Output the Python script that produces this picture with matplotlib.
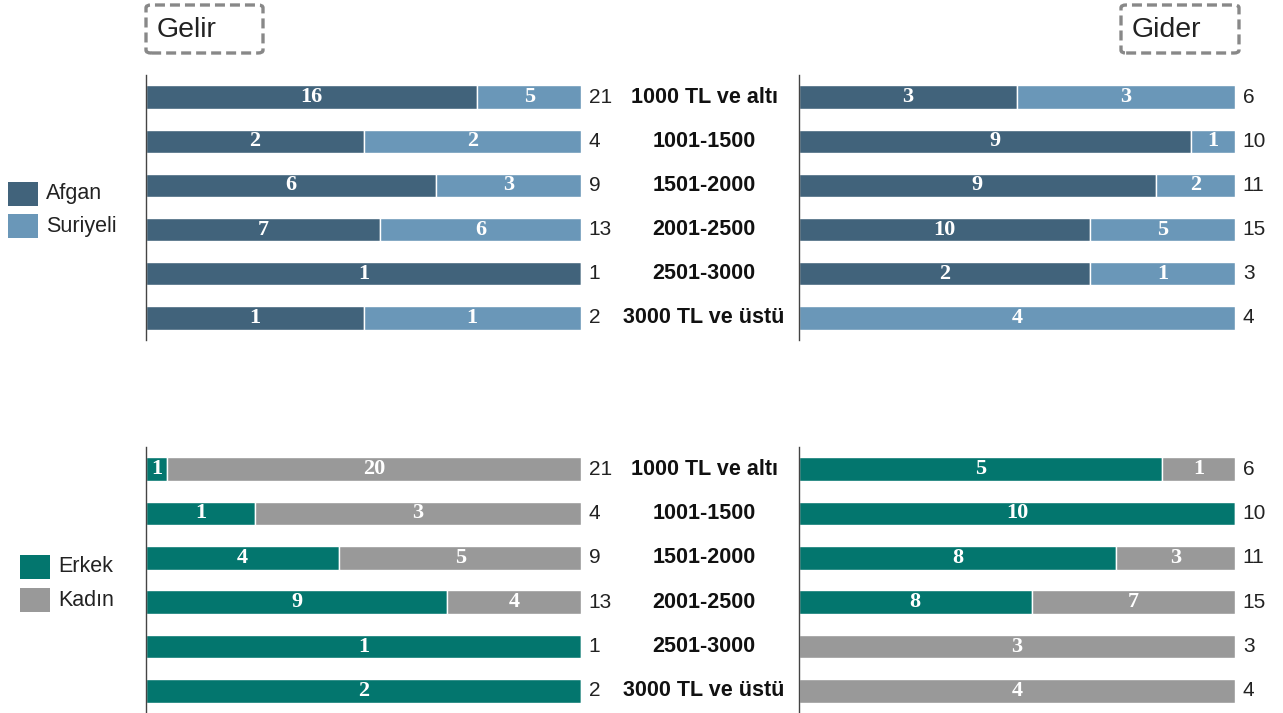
import matplotlib
matplotlib.use("Agg")
from matplotlib import pyplot as plt
from matplotlib.patches import FancyBboxPatch, Rectangle
import numpy as np

categories = ["1000 TL ve altı", "1001-1500", "1501-2000", "2001-2500", "2501-3000", "3000 TL ve üstü"]

gelir_afgan = [16, 2, 6, 7, 1, 1]
gelir_suriyeli = [5, 2, 3, 6, 0, 1]
gider_afgan = [3, 9, 9, 10, 2, 0]
gider_suriyeli = [3, 1, 2, 5, 1, 4]

gelir_erkek = [1, 1, 4, 9, 1, 2]
gelir_kadin = [20, 3, 5, 4, 0, 0]
gider_erkek = [5, 10, 8, 8, 0, 0]
gider_kadin = [1, 0, 3, 7, 3, 4]

C_AFGAN, C_SURIYELI = "#41637b", "#6a97b8"
C_ERKEK, C_KADIN = "#03766e", "#999999"

SANS = ["Liberation Sans", "DejaVu Sans"]
SERIF = ["Liberation Serif", "DejaVu Serif"]

W, H = 1283, 713
fig = plt.figure(figsize=(W / 100, H / 100), dpi=100)


def px_axes(x0, y0, x1, y1):
    return fig.add_axes([x0 / W, 1 - y1 / H, (x1 - x0) / W, (y1 - y0) / H])


def panel(ax, a, b, ca, cb, labels=False):
    a = np.array(a, float)
    b = np.array(b, float)
    tot = a + b
    y = np.arange(len(a))
    fa, fb = a / tot, b / tot
    ax.barh(y, fa, height=0.53, color=ca, edgecolor="white", linewidth=1.0)
    ax.barh(y, fb, left=fa, height=0.53, color=cb, edgecolor="white", linewidth=1.0)
    for i in y:
        if a[i] > 0:
            ax.text(fa[i] / 2, i, f"{int(a[i])}", ha="center", va="center", color="white",
                    fontsize=16, fontweight="bold", family=SERIF)
        if b[i] > 0:
            ax.text(fa[i] + fb[i] / 2, i, f"{int(b[i])}", ha="center", va="center", color="white",
                    fontsize=16, fontweight="bold", family=SERIF)
        ax.text(1.018, i, f"{int(tot[i])}", transform=ax.get_yaxis_transform(), ha="left",
                va="center", fontsize=15, color="#222222", family=SANS)
        if labels:
            ax.text(1.283, i, categories[i], transform=ax.get_yaxis_transform(), ha="center",
                    va="center", fontsize=15.5, fontweight="bold", color="#111111", family=SANS)
    ax.set_xlim(0, 1)
    ax.set_ylim(len(a) - 0.5, -0.5)
    for s in ["top", "right", "bottom"]:
        ax.spines[s].set_visible(False)
    ax.spines["left"].set_color("#444444")
    ax.spines["left"].set_linewidth(1)
    ax.set_xticks([])
    ax.set_yticks([])
    ax.patch.set_alpha(0)


panel(px_axes(146, 75, 581, 340), gelir_afgan, gelir_suriyeli, C_AFGAN, C_SURIYELI, labels=True)
panel(px_axes(799, 75, 1235, 340), gider_afgan, gider_suriyeli, C_AFGAN, C_SURIYELI)
panel(px_axes(146, 447, 581, 713), gelir_erkek, gelir_kadin, C_ERKEK, C_KADIN, labels=True)
panel(px_axes(799, 447, 1235, 713), gider_erkek, gider_kadin, C_ERKEK, C_KADIN)


def legend_item(x, y, color, text):
    fig.patches.append(Rectangle((x / W, 1 - (y + 24) / H), 30 / W, 24 / H,
                                 transform=fig.transFigure, facecolor=color, edgecolor="none"))
    fig.text((x + 38) / W, 1 - (y + 12) / H, text, ha="left", va="center",
             fontsize=15.5, color="#222222", family=SANS)


legend_item(8, 182, C_AFGAN, "Afgan")
legend_item(8, 214, C_SURIYELI, "Suriyeli")
legend_item(20, 555, C_ERKEK, "Erkek")
legend_item(20, 588, C_KADIN, "Kadın")


def title_box(x0, x1, text):
    fig.patches.append(FancyBboxPatch((x0 / W, 1 - 53 / H), (x1 - x0) / W, 48 / H,
                                      boxstyle="round,pad=0,rounding_size=0.004",
                                      transform=fig.transFigure, facecolor="none",
                                      edgecolor="#888888", linewidth=2.4, linestyle=(0, (3, 1.5))))
    fig.text((x0 + 11) / W, 1 - 30 / H, text, ha="left", va="center",
             fontsize=20.5, color="#222222", family=SANS)


title_box(146, 263, "Gelir")
title_box(1121, 1239, "Gider")

fig.savefig("out.png", dpi=100)
